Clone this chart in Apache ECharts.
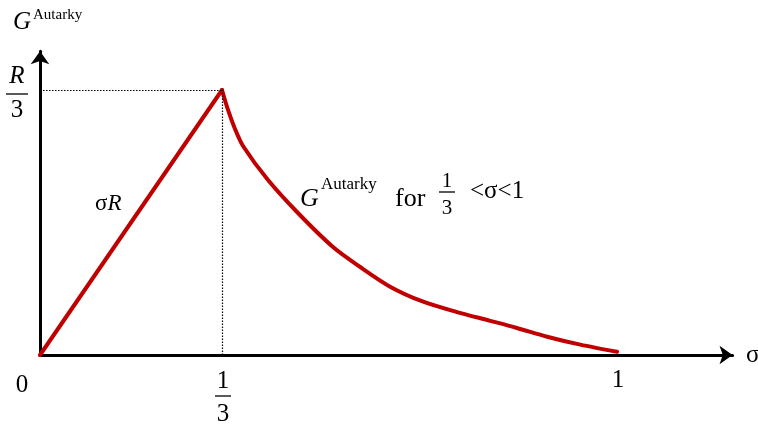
<!DOCTYPE html>
<html>
<head>
<meta charset="utf-8">
<script src="https://cdn.jsdelivr.net/npm/echarts@6/dist/echarts.min.js"></script>
<style>
  html, body { margin: 0; padding: 0; background: #fff; }
  #chart { width: 758px; height: 425px; }
</style>
</head>
<body>
<div id="chart"></div>
<script>
// Autarky payoff G as a function of σ, with G measured in units of R (R = 1).
// Rising branch: G = σR for 0 < σ < 1/3.
const riseSigma = [0, 1 / 3];
const riseG = [0, 1 / 3];
// Falling branch for 1/3 < σ < 1.
const decaySigma = [1 / 3, 0.3435, 0.3553, 0.3688, 0.411, 0.4616, 0.5207, 0.566, 0.617, 0.673, 0.730, 0.786, 0.831, 0.882, 0.938, 1.0];
const decayG = [1 / 3, 0.3082, 0.2843, 0.2629, 0.2201, 0.1786, 0.1358, 0.111, 0.086, 0.067, 0.054, 0.043, 0.034, 0.023, 0.013, 0.004];
// Peak (guide lines)
const peakSigma = 1 / 3;
const peakG = 1 / 3;
// Tick labels
const xTickValues = [0, 1 / 3, 1];
const xTickTexts = ['0', '1/3', '1'];
const yTickValues = [1 / 3];
const yTickTexts = ['R/3'];
// Axis names and curve labels
const yName = 'G';
const yNameSup = 'Autarky';
const xName = 'σ';
const riseLabel = ['σ', 'R'];
const decayLabel = ['G', 'Autarky', 'for', '1/3', '<σ<1'];

const RED = '#c00000';
const SERIF = '"Liberation Serif", "Times New Roman", serif';

// Layout: the σ axis is drawn in two linear pieces (0..1/3 and 1/3..end)
const originX = 40, originY = 355;
const pxLeft = 546;      // px per unit σ on [0, 1/3]
const pxRight = 592.5;   // px per unit σ beyond 1/3
const pxY = 795;         // px per unit G
const xMax = 1.195, yMax = 0.382;
const plotH = yMax * pxY;
const plotTop = originY - plotH;
const leftW = peakSigma * pxLeft;
const rightW = (xMax - peakSigma) * pxRight;

const chart = echarts.init(document.getElementById('chart'), null, { renderer: 'canvas' });

const axisLineStyle = { color: '#000', width: 3 };
const hiddenBits = { axisTick: { show: false }, axisLabel: { show: false }, splitLine: { show: false } };
const dotted = { color: '#000', width: 1.2, type: [1.5, 1.5] };

chart.setOption({
  animation: false,
  backgroundColor: '#fff',
  grid: [
    { left: originX, top: plotTop, width: leftW, height: plotH },
    { left: originX + leftW, top: plotTop, width: rightW, height: plotH }
  ],
  xAxis: [
    Object.assign({ type: 'value', gridIndex: 0, min: 0, max: peakSigma,
      axisLine: { show: true, lineStyle: axisLineStyle, symbol: ['none', 'none'] } }, hiddenBits),
    Object.assign({ type: 'value', gridIndex: 1, min: peakSigma, max: xMax,
      axisLine: { show: true, onZero: false, lineStyle: axisLineStyle, symbol: ['none', 'arrow'], symbolSize: [14, 13] } }, hiddenBits)
  ],
  yAxis: [
    Object.assign({ type: 'value', gridIndex: 0, min: 0, max: yMax,
      axisLine: { show: true, onZero: false, lineStyle: axisLineStyle, symbol: ['none', 'arrow'], symbolSize: [14, 13] } }, hiddenBits),
    Object.assign({ type: 'value', gridIndex: 1, min: 0, max: yMax, show: false }, hiddenBits)
  ],
  series: [
    {
      type: 'line', xAxisIndex: 0, yAxisIndex: 0, clip: false, symbol: 'none',
      data: riseSigma.map((s, i) => [s, riseG[i]]),
      lineStyle: { color: RED, width: 4, cap: 'round', join: 'round' },
      markLine: {
        silent: true, symbol: ['none', 'none'], label: { show: false },
        lineStyle: dotted,
        data: [
          [{ coord: [0, peakG] }, { coord: [peakSigma, peakG] }],
          [{ coord: [peakSigma, 0] }, { coord: [peakSigma, peakG] }]
        ]
      },
      z: 3
    },
    {
      type: 'line', xAxisIndex: 1, yAxisIndex: 1, clip: false, symbol: 'none',
      smooth: 0.3,
      data: decaySigma.map((s, i) => [s, decayG[i]]),
      lineStyle: { color: RED, width: 4, cap: 'round', join: 'round' },
      z: 3
    }
  ]
});

// Helpers to map σ and G to pixels through the axes
function sx(s) {
  return s <= peakSigma
    ? chart.convertToPixel({ xAxisIndex: 0 }, s)
    : chart.convertToPixel({ xAxisIndex: 1 }, s);
}
function gy(g) { return chart.convertToPixel({ yAxisIndex: 0 }, g); }

function text(x, y, s, size, opt) {
  opt = opt || {};
  const align = opt.align || 'center';
  return {
    type: 'text', x: x, y: y, z: 10, silent: true,
    style: {
      text: s, fill: '#000', fontFamily: SERIF, fontSize: size,
      fontStyle: opt.italic ? 'italic' : 'normal',
      align: align, textAlign: align,
      verticalAlign: 'middle', textVerticalAlign: 'middle',
      rich: opt.rich
    }
  };
}
function bar(x1, x2, y) {
  return { type: 'line', z: 10, silent: true,
    shape: { x1: x1, y1: y, x2: x2, y2: y }, style: { stroke: '#000', lineWidth: 1.3 } };
}
// A stacked fraction "a/b" centred at cx
function fraction(cx, yNum, yBar, yDen, halfW, s, size, numItalic) {
  const parts = s.split('/');
  return [
    text(cx, yNum, parts[0], size, { italic: numItalic }),
    bar(cx - halfW, cx + halfW, yBar),
    text(cx, yDen, parts[1], size)
  ];
}

const x0 = sx(0), y0 = gy(0);
const els = [];

// σ-axis tick labels
xTickValues.forEach((v, i) => {
  const t = xTickTexts[i];
  const px = sx(v);
  if (t.indexOf('/') >= 0) {
    els.push(...fraction(px + 1, y0 + 26, y0 + 41, y0 + 59, 8, t, 25, false));
  } else if (v === 0) {
    els.push(text(px - 18, y0 + 30, t, 25));
  } else {
    els.push(text(px + 1, y0 + 25, t, 25));
  }
});

// G-axis tick labels
yTickValues.forEach((v, i) => {
  const py = gy(v);
  els.push(...fraction(x0 - 23, py - 13.5, py + 4, py + 20, 11, yTickTexts[i], 25, true));
});

// Axis names
els.push(text(13, 22, yName, 25, { italic: true, align: 'left' }));
els.push(text(33, 15, yNameSup, 15, { align: 'left' }));
els.push(text(746, y0, xName, 25, { align: 'left' }));

// Curve labels
els.push(text(95, 204, '{s|' + riseLabel[0] + '}{r|' + riseLabel[1] + '}', 23, {
  align: 'left',
  rich: {
    s: { fontFamily: SERIF, fontSize: 23, fill: '#000' },
    r: { fontFamily: SERIF, fontSize: 23, fontStyle: 'italic', fill: '#000' }
  }
}));
els.push(text(300, 199, decayLabel[0], 26, { italic: true, align: 'left' }));
els.push(text(321, 185, decayLabel[1], 17, { align: 'left' }));
els.push(text(395, 199, decayLabel[2], 26, { align: 'left' }));
els.push(...fraction(447, 181, 192, 208, 8, decayLabel[3], 21, false));
els.push(text(470, 191, decayLabel[4], 25, { align: 'left' }));

chart.setOption({ graphic: { elements: els } });
</script>
</body>
</html>
